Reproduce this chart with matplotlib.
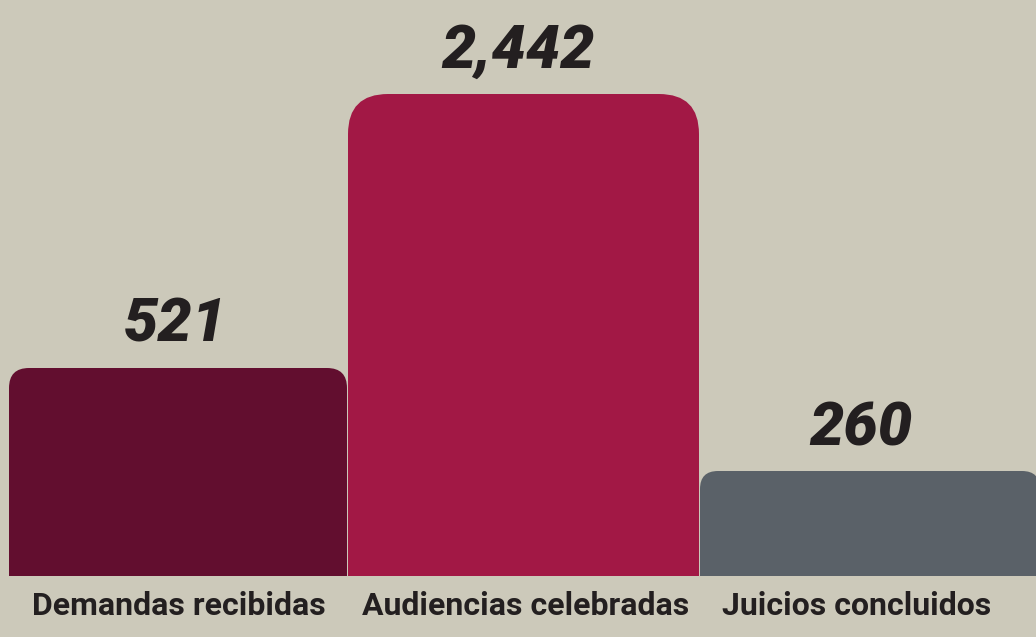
import matplotlib
matplotlib.use("Agg")
import matplotlib.pyplot as plt
from matplotlib.patches import FancyBboxPatch

# Data
categories = ["Demandas recibidas", "Audiencias celebradas", "Juicios concluidos"]
values = [521, 2442, 260]
value_labels = ["521", "2,442", "260"]
# visual bar heights as drawn in the reference (not proportional to values)
bar_heights = [208, 482, 105]
colors = ["#620E2F", "#A21845", "#5A6168"]

# Layout (pixels)
bar_left = [9, 348, 700]
bar_width = [338, 351, 340]
corner_px = [20, 40, 18]
value_cx = [175, 518, 861]
label_cx = [179, 526, 857]

W, H = 1036, 637
DPI = 100
bg = "#CCC9BA"
fig = plt.figure(figsize=(W / DPI, H / DPI), dpi=DPI, facecolor=bg)

base_px = 61  # baseline from figure bottom
ax = fig.add_axes([0, base_px / H, 1, 1 - base_px / H])
ax.set_facecolor(bg)
ax.set_xlim(0, W)
ax.set_ylim(0, H - base_px)
ax.axis("off")

for i, (h, c, r) in enumerate(zip(bar_heights, colors, corner_px)):
    patch = FancyBboxPatch((bar_left[i], -r * 2), bar_width[i], h + r * 2,
                           boxstyle=f"round,pad=0,rounding_size={r}",
                           facecolor=c, edgecolor="none", clip_on=True)
    ax.add_patch(patch)
    ax.text(value_cx[i], h + 26, value_labels[i], ha="center", va="baseline",
            fontsize=44, fontweight="heavy", fontstyle="italic",
            family="Roboto", color="#231F20")

for i, cat in enumerate(categories):
    ax.text(label_cx[i], -39, cat, ha="center", va="baseline",
            fontsize=23, fontweight="bold", family="Roboto",
            color="#231F20", clip_on=False)

fig.savefig("out.png", dpi=DPI, facecolor=bg)
